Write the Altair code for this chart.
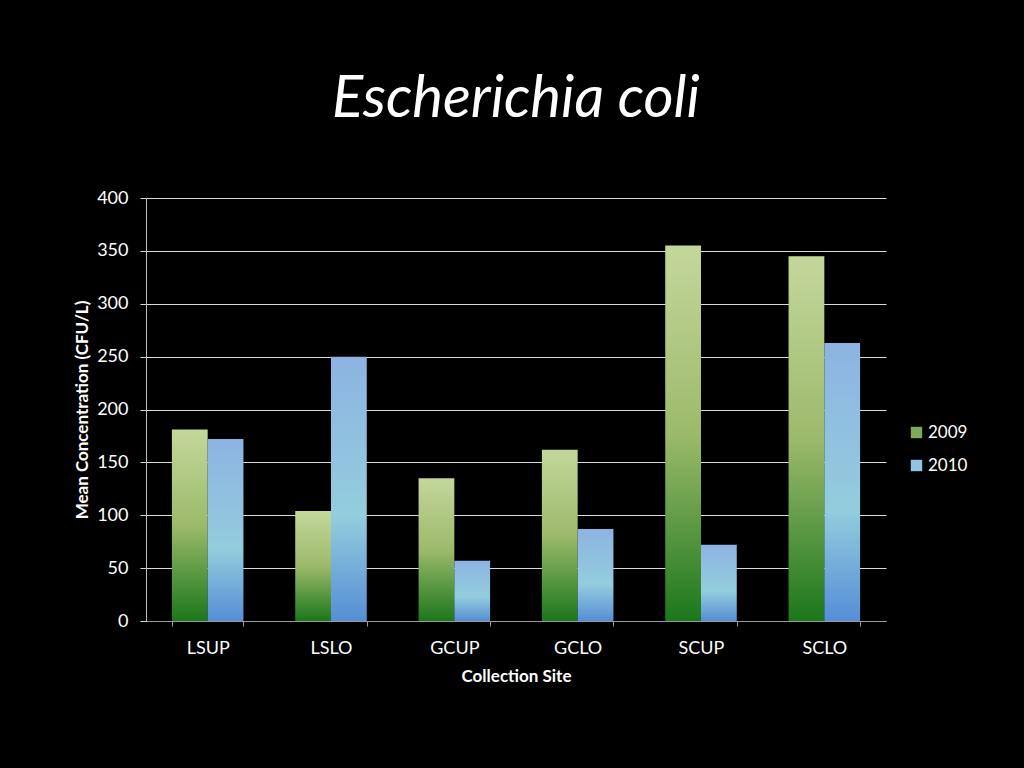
import altair as alt
import altair.utils.html as alt_html
import pandas as pd

sites = ["LSUP", "LSLO", "GCUP", "GCLO", "SCUP", "SCLO"]
years = ["2009", "2010"]
values_2009 = [181, 104, 135, 162, 355, 345]
values_2010 = [172, 250, 57, 87, 72, 263]
y_ticks = [0, 50, 100, 150, 200, 250, 300, 350, 400]

rows = []
for s, a, b in zip(sites, values_2009, values_2010):
    rows.append({"site": s, "year": "2009", "value": a})
    rows.append({"site": s, "year": "2010", "value": b})
df = pd.DataFrame(rows)

FONT = "Lato"

green = alt.Gradient(
    gradient="linear", x1=0, x2=0, y1=0, y2=1,
    stops=[
        alt.GradientStop(color="#c4d79b", offset=0),
        alt.GradientStop(color="#9cba6b", offset=0.5),
        alt.GradientStop(color="#1b771b", offset=1),
    ],
)
blue = alt.Gradient(
    gradient="linear", x1=0, x2=0, y1=0, y2=1,
    stops=[
        alt.GradientStop(color="#8db3e2", offset=0),
        alt.GradientStop(color="#93cddd", offset=0.6),
        alt.GradientStop(color="#558ed5", offset=1),
    ],
)

x = alt.X(
    "site:N", sort=sites,
    scale=alt.Scale(paddingInner=0.42, paddingOuter=0.21),
    axis=alt.Axis(
        title="Collection Site", tickBand="extent", labelAngle=0,
        labelFont=FONT, labelFontSize=18, labelColor="white", labelPadding=13,
        titleFont=FONT, titleFontSize=17, titleFontWeight="bold", titleColor="white",
        titlePadding=11, domainColor="#9a9a9a", tickColor="#9a9a9a", tickSize=5,
        grid=False,
    ),
)
y = alt.Y(
    "value:Q",
    scale=alt.Scale(domain=[0, 400], nice=False),
    axis=alt.Axis(
        title="Mean Concentration (CFU/L)", values=y_ticks,
        labelFont=FONT, labelFontSize=18, labelColor="white", labelPadding=12,
        titleFont=FONT, titleFontSize=17, titleFontWeight="bold", titleColor="white",
        titlePadding=5, domainColor="#bfbfbf", tickColor="#d9d9d9", tickSize=6,
        grid=True, gridColor="#d9d9d9", gridWidth=1,
    ),
)
xo = alt.XOffset("year:N", scale=alt.Scale(domain=years, paddingInner=0, paddingOuter=0))

base = alt.Chart(df).encode(x=x, y=y, xOffset=xo)

bars09 = base.transform_filter(alt.datum.year == "2009").mark_bar(color=green)
bars10 = base.transform_filter(alt.datum.year == "2010").mark_bar(color=blue)
legend_layer = base.mark_square(opacity=0, size=10).encode(
    color=alt.Color(
        "year:N",
        scale=alt.Scale(domain=years, range=["#7fa75a", "#93c3e2"]),
        legend=alt.Legend(
            title=None, orient="none", legendX=762, legendY=226,
            symbolType="square", symbolSize=130, symbolOpacity=1,
            symbolStrokeWidth=0, labelFont=FONT, labelFontSize=17,
            labelColor="white", rowPadding=15, labelOffset=3,
        ),
    )
)

chart = (
    alt.layer(bars09, bars10, legend_layer)
    .properties(
        width=740, height=423,
        title=alt.TitleParams(
            "Escherichia coli", font=FONT, fontSize=58, fontStyle="italic",
            fontWeight="normal", color="white", anchor="middle", offset=60,
        ),
        autosize=alt.AutoSizeParams(type="none"),
        padding={"left": 138, "top": 190, "right": 130, "bottom": 131},
        background="black",
    )
    .configure_view(stroke=None)
)


# Page background black, so the page margin matches the slide background.
class _BlackPage:
    def __init__(self, tmpl):
        self.tmpl = tmpl

    def render(self, *args, **kwargs):
        html = self.tmpl.render(*args, **kwargs)
        style = "<style>html,body{background:#000000;}</style>"
        if "<head>" in html:
            return html.replace("<head>", "<head>" + style, 1)
        return style + html


alt_html.TEMPLATES["standard"] = _BlackPage(alt_html.TEMPLATES["standard"])

chart.save("out.html", embed_options={"renderer": "svg", "actions": False})
